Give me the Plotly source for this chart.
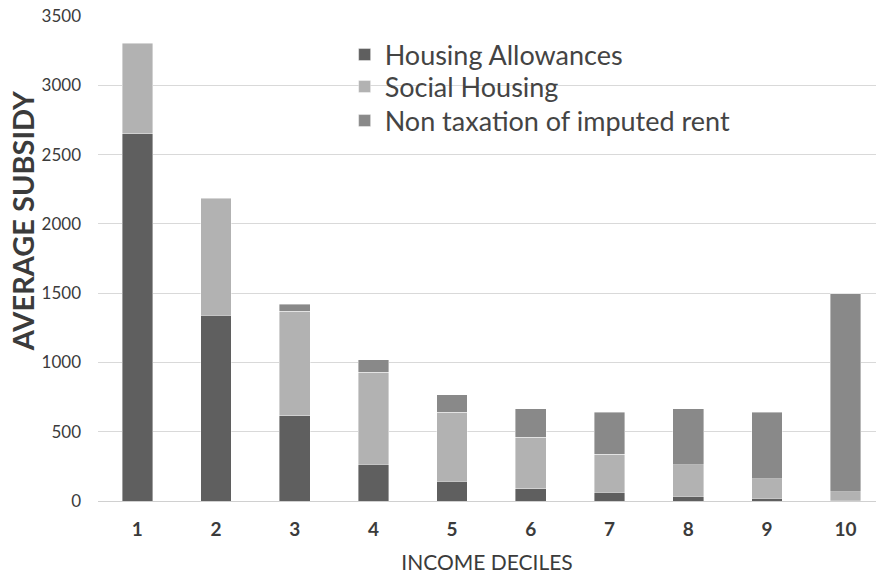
import plotly.graph_objects as go

deciles = [1, 2, 3, 4, 5, 6, 7, 8, 9, 10]
decile_labels = ["1", "2", "3", "4", "5", "6", "7", "8", "9", "10"]

housing_allowances = [2650, 1340, 615, 265, 143, 87, 63, 34, 20, 5]
social_housing = [650, 840, 755, 665, 497, 372, 275, 229, 142, 63]
non_taxation = [5, 5, 50, 90, 125, 207, 302, 403, 478, 1427]

FONT = "Lato, 'Open Sans', sans-serif"
TEXT_COLOR = "#3b3b3b"

series = [
    ("Housing Allowances", housing_allowances, "#5f5f5f"),
    ("Social Housing", social_housing, "#b2b2b2"),
    ("Non taxation of imputed rent", non_taxation, "#898989"),
]
# one legend per series so the row spacing can match the original
legend_ids = ["legend", "legend2", "legend3"]
legend_rows = [0.9196, 0.8536, 0.7835]

fig = go.Figure()
for (name, values, color), lid in zip(series, legend_ids):
    fig.add_trace(
        go.Bar(
            x=deciles,
            y=values,
            name=name,
            width=0.39,
            legend=lid,
            marker=dict(color=color, line=dict(width=0.8, color="rgba(255,255,255,0.5)")),
        )
    )

legend_style = dict(
    x=0.317,
    xanchor="left",
    yanchor="middle",
    font=dict(size=27, color="#444444"),
    bgcolor="rgba(0,0,0,0)",
    itemwidth=30,
)

fig.update_layout(
    barmode="stack",
    width=878,
    height=574,
    plot_bgcolor="#ffffff",
    paper_bgcolor="#ffffff",
    font=dict(family=FONT, color=TEXT_COLOR),
    margin=dict(l=98, r=2, t=16, b=73),
    showlegend=True,
    legend=dict(y=legend_rows[0], **legend_style),
    legend2=dict(y=legend_rows[1], **legend_style),
    legend3=dict(y=legend_rows[2], **legend_style),
    xaxis=dict(
        tickmode="array",
        tickvals=deciles,
        ticktext=decile_labels,
        range=[0.5, 10.386],
        showgrid=False,
        zeroline=False,
        showline=False,
        ticks="",
        tickfont=dict(size=19, color=TEXT_COLOR, weight="bold"),
        ticklabelstandoff=15,
        title=dict(
            text="INCOME DECILES",
            font=dict(size=21, color=TEXT_COLOR),
            standoff=17,
        ),
    ),
    yaxis=dict(
        range=[0, 3500],
        dtick=500,
        showgrid=True,
        gridcolor="#d9d9d9",
        gridwidth=1,
        zeroline=True,
        zerolinecolor="#d0d0d0",
        zerolinewidth=1,
        showline=False,
        ticks="",
        tickfont=dict(size=17, color=TEXT_COLOR),
        ticklabelstandoff=16,
    ),
    annotations=[
        dict(
            text="AVERAGE SUBSIDY",
            textangle=-90,
            xref="paper",
            yref="paper",
            x=-0.0977,
            y=0.577,
            xanchor="center",
            yanchor="middle",
            showarrow=False,
            font=dict(size=29, color=TEXT_COLOR, weight="bold"),
        )
    ],
)

# drop the default 8px body margin so the figure sits at the window's corner
fig.write_html(
    "out.html",
    config={"displayModeBar": False},
    post_script="document.body.style.margin='0px';",
)
